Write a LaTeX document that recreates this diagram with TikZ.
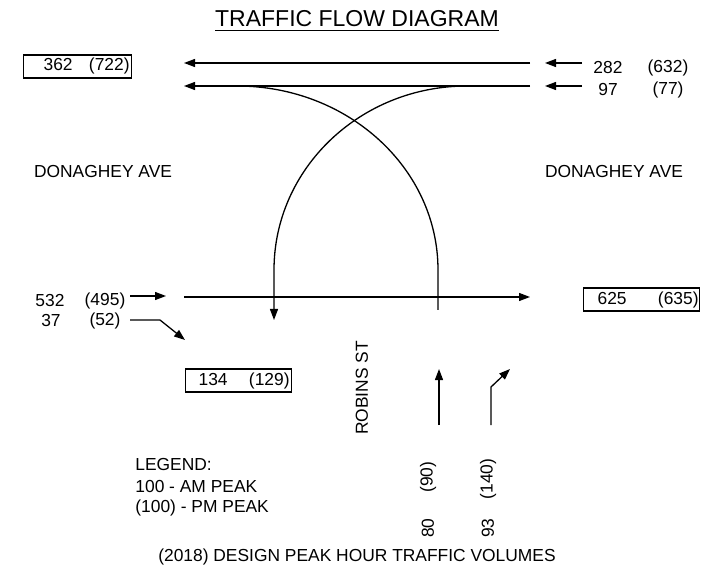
\documentclass[tikz,border=0pt]{standalone}
\usepackage{fontspec}
\setmainfont{Liberation Sans}
\usetikzlibrary{arrows.meta}

\begin{document}
\begin{tikzpicture}[x=0.5pt, y=-0.5pt,
  lbl/.style={font=\fontsize{8.7}{10}\selectfont, inner sep=0pt},
  vol/.style={draw, line width=0.6pt, lbl, inner xsep=0pt, inner ysep=0pt, minimum height=11.5pt, anchor=west},
  flow/.style={line width=0.65pt, -{Triangle[length=5.5pt,width=4pt]}},
  lane/.style={line width=0.65pt}]
\useasboundingbox (0,0) rectangle (707,572);
% title and street names
\node[font=\fontsize{11.5}{13}\selectfont, inner sep=0pt] (title) at (357,21) {\underline{TRAFFIC FLOW DIAGRAM}};
\node[lbl] (donw) at (103,172) {DONAGHEY AVE};
\node[lbl] (done) at (614,172) {DONAGHEY AVE};
\node[lbl, rotate=90] (robins) at (362,388) {ROBINS ST};
% volume boxes
\node[vol] (wbout) at (23,66.5) {\makebox[54pt]{\hspace*{10pt}362\hfill(722)\hspace*{1pt}}};
\node[vol] (sbout) at (185,380.5) {\makebox[53pt]{\hspace*{6.5pt}134\hfill(129)\hspace*{1pt}}};
\node[vol] (ebout) at (583,299.5) {\makebox[58pt]{\hspace*{7pt}625\hfill(635)\hspace*{0.5pt}}};
% approach volumes
\node[lbl] (wbam) at (608,68) {282}; \node[lbl] (wbpm) at (668,68) {(632)};
\node[lbl] (wlam) at (608,90) {97}; \node[lbl] (wlpm) at (668,90) {(77)};
\node[lbl] (ebam) at (50,301) {532}; \node[lbl] (ebpm) at (105,301) {(495)};
\node[lbl] (eram) at (51,321) {37}; \node[lbl] (erpm) at (105,321) {(52)};
\node[lbl, rotate=90] (ntpm) at (428,477) {(90)}; \node[lbl, rotate=90] (ntam) at (428,528) {80};
\node[lbl, rotate=90] (nrpm) at (488,479) {(140)}; \node[lbl, rotate=90] (nram) at (488,528) {93};
% legend
\node[lbl, anchor=west] (leg) at (135,465) {LEGEND:};
\node[lbl, anchor=west] (legam) at (135,487) {100 - AM PEAK};
\node[lbl, anchor=west] (legpm) at (135,508) {(100) - PM PEAK};
\node[lbl] (caption) at (357,557) {(2018) DESIGN PEAK HOUR TRAFFIC VOLUMES};
% flow points
\coordinate (wt1) at (530,63); \coordinate (wt2) at (184,63);
\coordinate (wl1) at (530,86); \coordinate (wl2) at (184,86);
\coordinate (et1) at (184,297); \coordinate (et2) at (530,297);
\coordinate (sl1) at (467,86); \coordinate (sl2) at (274,270); \coordinate (sl3) at (274,320);
\coordinate (nl1) at (438,310); \coordinate (nl2) at (438,270); \coordinate (nl3) at (237,86);
\coordinate (nt1) at (439,425); \coordinate (nt2) at (439,369);
\coordinate (nr1) at (491,425); \coordinate (nr2) at (491,387); \coordinate (nr3) at (510,369);
\coordinate (wa1) at (582,63); \coordinate (wa2) at (545,63);
\coordinate (wb1) at (582,86); \coordinate (wb2) at (545,86);
\coordinate (ea1) at (130,296); \coordinate (ea2) at (166,296);
\coordinate (er1) at (130,320); \coordinate (er2) at (160,320); \coordinate (er3) at (185,340);
% main movements
\draw[flow] (wt1) -- (wt2);
\draw[flow] (wl1) -- (wl2);
\draw[flow] (et1) -- (et2);
\draw[flow] (sl1) .. controls (360.4,86) and (274,168.4) .. (sl2) -- (sl3);
\draw[lane] (nl1) -- (nl2) .. controls (438,168.4) and (348,86) .. (nl3);
\draw[flow] (nt1) -- (nt2);
\draw[flow] (nr1) -- (nr2) -- (nr3);
% approach arrows
\draw[flow] (wa1) -- (wa2);
\draw[flow] (wb1) -- (wb2);
\draw[flow] (ea1) -- (ea2);
\draw[flow] (er1) -- (er2) -- (er3);
\end{tikzpicture}
\end{document}
